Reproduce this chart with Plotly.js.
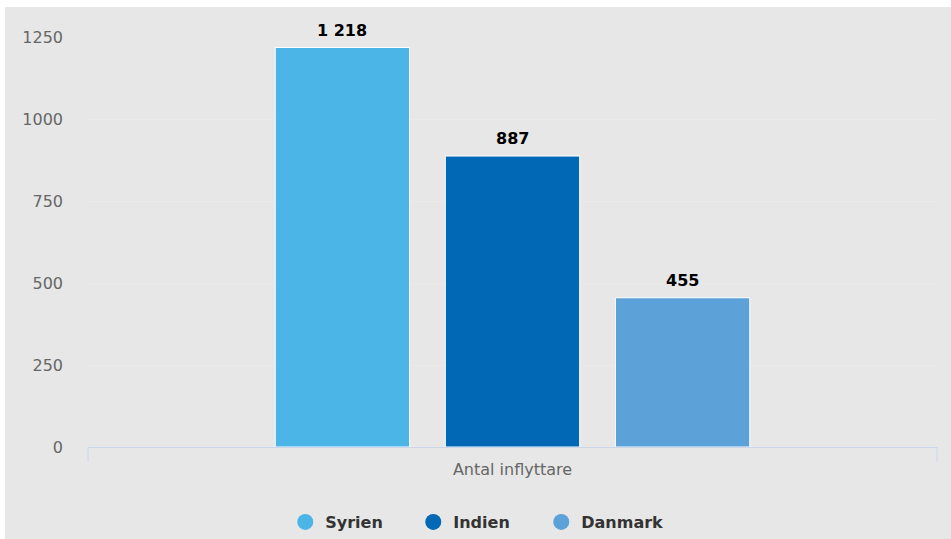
<!DOCTYPE html>
<html>
<head>
<meta charset="utf-8">
<script src="https://cdn.plot.ly/plotly-3.0.1.min.js"></script>
<style>
html,body{margin:0;padding:0;background:#ffffff;width:951px;height:539px;overflow:hidden;}
#chart{position:absolute;left:5px;top:7px;width:946px;height:532px;}
</style>
</head>
<body>
<div id="chart"></div>
<script>
const category = "Antal inflyttare";
const seriesNames = ["Syrien", "Indien", "Danmark"];
const seriesValues = [1218, 887, 455];
const seriesColors = ["#4bb5e8", "#0068b4", "#5ca2d8"];
const yTickVals = [0, 250, 500, 750, 1000, 1250];

const font = "DejaVu Sans, Verdana, sans-serif";
function fmt(v) {
  return String(v).replace(/\B(?=(\d{3})+(?!\d))/g, "\u00a0");
}

const traces = [];
seriesNames.forEach((name, i) => {
  traces.push({
    type: "bar",
    name: name,
    x: [category],
    y: [seriesValues[i]],
    marker: {color: seriesColors[i], line: {color: "#ffffff", width: 1}},
    showlegend: false,
    hoverinfo: "none"
  });
});
seriesNames.forEach((name, i) => {
  traces.push({
    type: "scatter",
    mode: "markers",
    name: name,
    x: [null],
    y: [null],
    marker: {color: seriesColors[i], size: 16, symbol: "circle"},
    showlegend: true,
    hoverinfo: "none"
  });
});

const layout = {
  paper_bgcolor: "#e7e7e7",
  plot_bgcolor: "#e7e7e7",
  margin: {l: 83, r: 14, t: 30, b: 92},
  barmode: "group",
  bargap: 0.399,
  bargroupgap: 0.21,
  font: {family: font, color: "#666666", size: 16},
  xaxis: {
    type: "category",
    showline: true,
    linecolor: "#ccd6eb",
    linewidth: 1,
    showgrid: false,
    ticks: "",
    ticklabelstandoff: 8,
    automargin: false,
    tickfont: {family: font, size: 16, color: "#666666"},
    fixedrange: true
  },
  yaxis: {
    range: [0, 1250],
    tickvals: yTickVals,
    showgrid: true,
    gridcolor: "#eaeaea",
    zeroline: false,
    showline: false,
    ticks: "",
    ticklabelstandoff: 24,
    automargin: false,
    tickfont: {family: font, size: 16, color: "#666666"},
    fixedrange: true
  },
  legend: {
    orientation: "h",
    x: 0.4585, xanchor: "center",
    yref: "container",
    y: 0.032, yanchor: "middle",
    font: {family: font, size: 16, color: "#333333", weight: "bold"},
    itemsizing: "trace",
    entrywidth: 83,
    bgcolor: "rgba(0,0,0,0)"
  },
  showlegend: true
};

// axis end tick marks (pixel sized shapes anchored at axis ends)
layout.shapes = [0, 1].map(xp => ({
  type: "line", xref: "paper", yref: "paper",
  x0: xp, x1: xp, ysizemode: "pixel", yanchor: 0, y0: 0, y1: -15,
  line: {color: "#ccd6eb", width: 1}
}));

Plotly.newPlot("chart", traces, layout, {displayModeBar: false, staticPlot: true}).then(gd => {
  const anns = seriesValues.map((v, i) => {
    const cd = gd.calcdata[i][0];
    const xc = (cd.x !== undefined && typeof cd.x === "number") ? cd.x : cd.p;
    return {
      xref: "x", yref: "y", x: xc, y: v,
      text: fmt(v), showarrow: false,
      xanchor: "center", yanchor: "bottom", yshift: 6,
      font: {family: font, size: 16, color: "#000000", weight: "bold"}
    };
  });
  return Plotly.relayout(gd, {annotations: anns});
});
</script>
</body>
</html>
